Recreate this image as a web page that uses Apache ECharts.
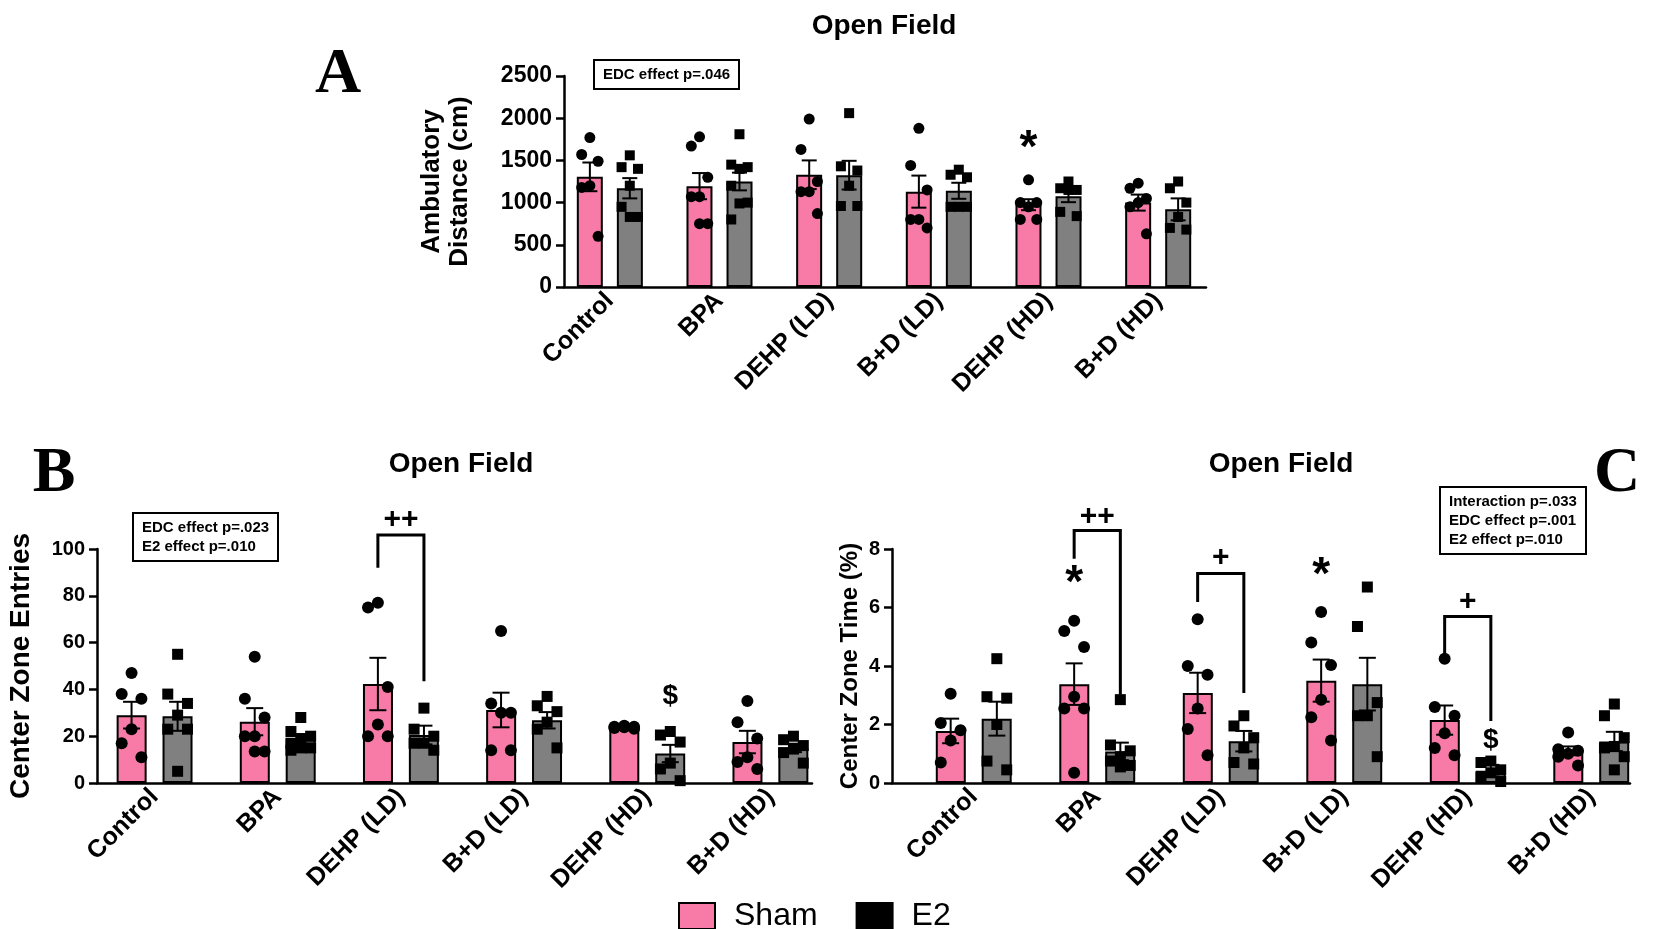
<!DOCTYPE html>
<html>
<head>
<meta charset="utf-8">
<title>Open Field</title>
<script src="https://cdn.jsdelivr.net/npm/echarts@6/dist/echarts.min.js"></script>
<style>
  html, body { margin: 0; padding: 0; background: #fff; }
  #main { width: 1654px; height: 929px; }
</style>
</head>
<body>
<div id="main"></div>
<script>
// ---- data ----
const categories = ['Control', 'BPA', 'DEHP (LD)', 'B+D (LD)', 'DEHP (HD)', 'B+D (HD)'];

// A: ambulatory distance (cm)
const distShamMean = [1305, 1195, 1330, 1130, 975, 1000];
const distShamSem = [170, 155, 170, 190, 65, 95];
const distE2Mean = [1170, 1250, 1325, 1140, 1075, 920];
const distE2Sem = [120, 105, 170, 95, 70, 130];
const distShamPts = [
  [1770, 1570, 1490, 1200, 1180, 600],
  [1780, 1670, 1300, 1070, 1070, 750, 750],
  [1990, 1630, 1250, 1130, 1130, 870],
  [1880, 1440, 1150, 800, 800, 700],
  [1270, 1000, 1000, 950, 800, 800],
  [1230, 1170, 1050, 1000, 950, 630]
];
const distE2Pts = [
  [1560, 1420, 1400, 1200, 950, 830, 830],
  [1810, 1450, 1420, 1400, 1200, 1000, 990, 800],
  [2060, 1430, 1380, 1200, 960, 960],
  [1390, 1330, 1300, 950, 950, 950],
  [1250, 1170, 1150, 1150, 890, 840],
  [1250, 1170, 1000, 830, 700, 680]
];

// B: center zone entries
const entShamMean = [29, 26.2, 42.3, 31.2, 23.8, 17.5];
const entShamSem = [5.7, 5.8, 11.2, 7.4, 0.3, 4.8];
const entE2Mean = [28.5, 18.7, 20.5, 26.8, 12.6, 15];
const entE2Sem = [6.2, 2, 4, 3.5, 3.7, 1.8];
const entShamPts = [
  [47, 38, 36, 23, 17, 11],
  [54, 36, 28, 20, 20, 13.5, 13.5],
  [77, 75, 41, 25, 20, 20],
  [65, 34, 30, 30, 14, 14],
  [24.5, 24, 24, 23.8, 23.5, 23.2],
  [35, 26, 19, 11, 9, 6]
];
const entE2Pts = [
  [55, 38, 34, 29, 23, 23, 5],
  [28, 22, 20, 19, 17, 15, 15, 14],
  [32, 23, 20, 17, 17, 14],
  [37, 33, 30.5, 26, 23, 15],
  [22, 20.5, 17.5, 8.5, 6, 1],
  [20, 18.5, 16, 14.5, 13, 8.5]
];

// C: center zone time (%)
const timeShamMean = [1.78, 3.38, 3.08, 3.5, 2.15, 1.1];
const timeShamSem = [0.42, 0.71, 0.69, 0.72, 0.5, 0.15];
const timeE2Mean = [2.2, 1.08, 1.43, 3.38, 0.42, 1.42];
const timeE2Sem = [0.58, 0.3, 0.35, 0.9, 0.2, 0.33];
const timeShamPts = [
  [3.05, 2.05, 1.8, 1.45, 0.7],
  [5.55, 5.2, 4.65, 2.95, 2.55, 2.55, 0.35],
  [5.6, 4, 3.7, 2.55, 1.85, 0.95],
  [5.85, 4.8, 4.03, 2.85, 2.25, 1.45],
  [4.25, 2.6, 2.3, 1.7, 1.2, 0.95],
  [1.73, 1.15, 1.1, 1, 0.9, 0.6]
];
const timeE2Pts = [
  [4.25, 2.95, 2.9, 2, 0.75, 0.45],
  [2.85, 1.3, 1.1, 0.9, 0.75, 0.6, 0.55],
  [2.3, 1.95, 1.55, 1.2, 0.7, 0.65],
  [6.7, 5.35, 2.75, 2.3, 2.3, 0.9],
  [0.75, 0.7, 0.45, 0.35, 0.2, 0.05],
  [2.7, 2.3, 1.55, 1.25, 1.2, 0.9, 0.45]
];

// significance marks: [category, side (-1 sham, 0 middle, 1 E2), value, text]
const marksA = [[4, -1, 1630, '*']];
const marksB = [[2, 0, 112.5, '++'], [4, 1, 37, '$']];
const marksC = [[1, 0, 9.1, '++'], [1, -1, 6.8, '*'], [2, 0, 7.7, '+'],
  [3, -1, 7.07, '*'], [4, 0, 6.2, '+'], [4, 1, 1.45, '$']];
// brackets: [category, left leg bottom, top, right leg bottom]
const bracketsA = [];
const bracketsB = [[2, 92, 106, 43.5]];
const bracketsC = [[1, 7.67, 8.63, 3.02], [2, 6.19, 7.16, 3.08], [4, 4.3, 5.69, 2.12]];

// ---- styling / layout ----
const PINK = '#F77BA6';
const GRAY = '#808080';
const FONT = 'Liberation Sans, Arial, sans-serif';
const jitter = [0, -1, 1, 0, -1, 1, 0, -1];

const panels = [
  {
    yName: 'Ambulatory\nDistance (cm)', nameGap: 90, nameSize: 26, tickSize: 23,
    min: 0, max: 2500, interval: 500,
    frame: { left: 564, width: 642 }, band: { left: 555, width: 658 }, top: 76, height: 211,
    off: 0.182, spread: 0.075, barWidth: 26, barGap: '54%', cap: 15, sym: 11,
    sham: distShamMean, shamSem: distShamSem, e2: distE2Mean, e2Sem: distE2Sem,
    shamPts: distShamPts, e2Pts: distE2Pts, marks: marksA, brackets: bracketsA
  },
  {
    yName: 'Center Zone Entries', nameGap: 62, nameSize: 28, tickSize: 20,
    min: 0, max: 100, interval: 20,
    frame: { left: 97, width: 715 }, band: { left: 93, width: 739 }, top: 549, height: 234,
    off: 0.187, spread: 0.08, barWidth: 30, barGap: '53%', cap: 17, sym: 12,
    sham: entShamMean, shamSem: entShamSem, e2: entE2Mean, e2Sem: entE2Sem,
    shamPts: entShamPts, e2Pts: entE2Pts, marks: marksB, brackets: bracketsB
  },
  {
    yName: 'Center Zone Time (%)', nameGap: 28, nameSize: 24, tickSize: 20,
    min: 0, max: 8, interval: 2,
    frame: { left: 892, width: 738 }, band: { left: 912, width: 741 }, top: 549, height: 234,
    off: 0.187, spread: 0.08, barWidth: 30, barGap: '53%', cap: 17, sym: 12,
    sham: timeShamMean, shamSem: timeShamSem, e2: timeE2Mean, e2Sem: timeE2Sem,
    shamPts: timeShamPts, e2Pts: timeE2Pts, marks: marksC, brackets: bracketsC
  }
];

const grid = [], xAxis = [], yAxis = [], series = [];

function pointData(groups, side, p) {
  const out = [];
  groups.forEach((g, i) => {
    g.forEach((v, k) => out.push([i + side * p.off + jitter[k] * p.spread, v]));
  });
  return out;
}

function errorSeries(means, sems, side, p, xi, yi) {
  return {
    type: 'custom', xAxisIndex: xi, yAxisIndex: yi, z: 3, silent: true,
    data: means.map((m, i) => [i + side * p.off, m - sems[i], m + sems[i]]),
    encode: { x: 0, y: [1, 2] },
    renderItem: function (params, api) {
      const x = api.value(0);
      const hi = api.coord([x, api.value(2)]);
      const lo = api.coord([x, api.value(1)]);
      const h = p.cap / 2;
      const st = { stroke: '#000', lineWidth: 2 };
      return {
        type: 'group', children: [
          { type: 'line', shape: { x1: hi[0], y1: hi[1], x2: lo[0], y2: lo[1] }, style: st },
          { type: 'line', shape: { x1: hi[0] - h, y1: hi[1], x2: hi[0] + h, y2: hi[1] }, style: st },
          { type: 'line', shape: { x1: lo[0] - h, y1: lo[1], x2: lo[0] + h, y2: lo[1] }, style: st }
        ]
      };
    }
  };
}

panels.forEach((p, n) => {
  const gFrame = 2 * n, gBand = 2 * n + 1;
  const xFrame = 3 * n, xCat = 3 * n + 1, xVal = 3 * n + 2;
  const yFrame = 2 * n, yBand = 2 * n + 1;

  grid.push({ left: p.frame.left, width: p.frame.width, top: p.top, height: p.height });
  grid.push({ left: p.band.left, width: p.band.width, top: p.top, height: p.height });

  xAxis.push({
    gridIndex: gFrame, type: 'value', min: 0, max: 1,
    axisLine: { show: true, onZero: false, lineStyle: { color: '#000', width: 2.5 } },
    axisTick: { show: false }, axisLabel: { show: false }, splitLine: { show: false }
  });
  xAxis.push({
    gridIndex: gBand, type: 'category', data: categories,
    axisLine: { show: false }, axisTick: { show: false },
    axisLabel: {
      interval: 0, rotate: 45, margin: 10, fontSize: 25, fontWeight: 'bold',
      color: '#000', fontFamily: FONT
    }
  });
  xAxis.push({ gridIndex: gBand, type: 'value', min: -0.5, max: 5.5, show: false });

  yAxis.push({
    gridIndex: gFrame, type: 'value', min: p.min, max: p.max, interval: p.interval,
    name: p.yName, nameLocation: 'middle', nameGap: p.nameGap,
    nameTextStyle: { fontSize: p.nameSize, fontWeight: 'bold', color: '#000', lineHeight: 28, fontFamily: FONT },
    axisLine: { show: true, lineStyle: { color: '#000', width: 2.5 } },
    axisTick: { show: true, length: 8, lineStyle: { color: '#000', width: 2.5 } },
    axisLabel: {
      fontSize: p.tickSize, fontWeight: 'bold', color: '#000', margin: 12, fontFamily: FONT,
      formatter: v => String(v)
    },
    splitLine: { show: false }
  });
  yAxis.push({ gridIndex: gBand, type: 'value', min: p.min, max: p.max, show: false });

  const barStyle = (c) => ({ color: c, borderColor: '#000', borderWidth: 2 });
  series.push({
    type: 'bar', name: 'Sham', xAxisIndex: xCat, yAxisIndex: yBand, data: p.sham,
    barWidth: p.barWidth, barGap: p.barGap, itemStyle: barStyle(PINK), z: 2, silent: true
  });
  series.push({
    type: 'bar', name: 'E2', xAxisIndex: xCat, yAxisIndex: yBand, data: p.e2,
    barWidth: p.barWidth, barGap: p.barGap, itemStyle: barStyle(GRAY), z: 2, silent: true
  });
  series.push(errorSeries(p.sham, p.shamSem, -1, p, xVal, yBand));
  series.push(errorSeries(p.e2, p.e2Sem, 1, p, xVal, yBand));
  series.push({
    type: 'scatter', name: 'Sham points', xAxisIndex: xVal, yAxisIndex: yBand,
    data: pointData(p.shamPts, -1, p), symbol: 'circle', symbolSize: p.sym,
    itemStyle: { color: '#000', opacity: 1 }, z: 4, silent: true
  });
  series.push({
    type: 'scatter', name: 'E2 points', xAxisIndex: xVal, yAxisIndex: yBand,
    data: pointData(p.e2Pts, 1, p), symbol: 'rect', symbolSize: p.sym - 1,
    itemStyle: { color: '#000', opacity: 1 }, z: 4, silent: true
  });
  if (p.brackets.length) {
    series.push({
      type: 'custom', xAxisIndex: xVal, yAxisIndex: yBand, z: 5, silent: true, clip: false,
      data: p.brackets.map(b => [b[0] - p.off, b[0] + p.off, b[1], b[2], b[3]]),
      renderItem: function (params, api) {
        const xl = api.value(0), xr = api.value(1);
        const a = api.coord([xl, api.value(2)]);
        const b = api.coord([xl, api.value(3)]);
        const c = api.coord([xr, api.value(3)]);
        const d = api.coord([xr, api.value(4)]);
        return {
          type: 'polyline', shape: { points: [a, b, c, d] },
          style: { stroke: '#000', lineWidth: 3, fill: null }
        };
      }
    });
  }
  series.push({
    type: 'custom', xAxisIndex: xVal, yAxisIndex: yBand, z: 6, silent: true, clip: false,
    data: p.marks.map(m => [m[0] + m[1] * p.off, m[2]]),
    renderItem: function (params, api) {
      const pt = api.coord([api.value(0), api.value(1)]);
      const t = p.marks[params.dataIndex][3];
      const size = t === '*' ? 46 : (t === '$' ? 28 : 30);
      return {
        type: 'text', x: pt[0], y: pt[1],
        style: {
          text: t, fill: '#000', font: 'bold ' + size + 'px ' + FONT,
          align: 'center', verticalAlign: 'middle'
        }
      };
    }
  });
});

const heading = (text, left, top) => ({
  text: text, left: left, top: top, textAlign: 'center', padding: 0,
  textStyle: { fontSize: 28, fontWeight: 'bold', color: '#000', fontFamily: FONT }
});
const letter = (text, left, top) => ({
  text: text, left: left, top: top, textAlign: 'center', padding: 0,
  textStyle: { fontSize: 64, fontWeight: 'bold', color: '#000', fontFamily: 'Liberation Serif, Times New Roman, serif' }
});
const statBox = (text, left, top) => ({
  text: text, left: left, top: top, padding: [5, 9], borderColor: '#000', borderWidth: 2,
  textStyle: { fontSize: 15, fontWeight: 'bold', color: '#000', lineHeight: 19, fontFamily: FONT }
});

const option = {
  animation: false,
  backgroundColor: '#fff',
  textStyle: { fontFamily: FONT },
  title: [
    heading('Open Field', 884, 12),
    heading('Open Field', 461, 450),
    heading('Open Field', 1281, 450),
    letter('A', 338, 43),
    letter('B', 54, 442),
    letter('C', 1617, 442),
    statBox('EDC effect p=.046', 594, 60),
    statBox('EDC effect p=.023\nE2 effect p=.010', 133, 513),
    statBox('Interaction p=.033\nEDC effect p=.001\nE2 effect p=.010', 1440, 487)
  ],
  legend: {
    data: [
      { name: 'Sham', itemStyle: { color: PINK, borderColor: '#000', borderWidth: 2 } },
      { name: 'E2', itemStyle: { color: '#000', borderColor: '#000', borderWidth: 2 } }
    ],
    left: 673, top: 895, icon: 'rect', itemWidth: 36, itemHeight: 26, itemGap: 38,
    selectedMode: false,
    textStyle: { fontSize: 32, color: '#000', padding: [0, 0, 0, 14], fontFamily: FONT }
  },
  grid: grid,
  xAxis: xAxis,
  yAxis: yAxis,
  series: series
};

const chart = echarts.init(document.getElementById('main'));
chart.setOption(option);
</script>
</body>
</html>
